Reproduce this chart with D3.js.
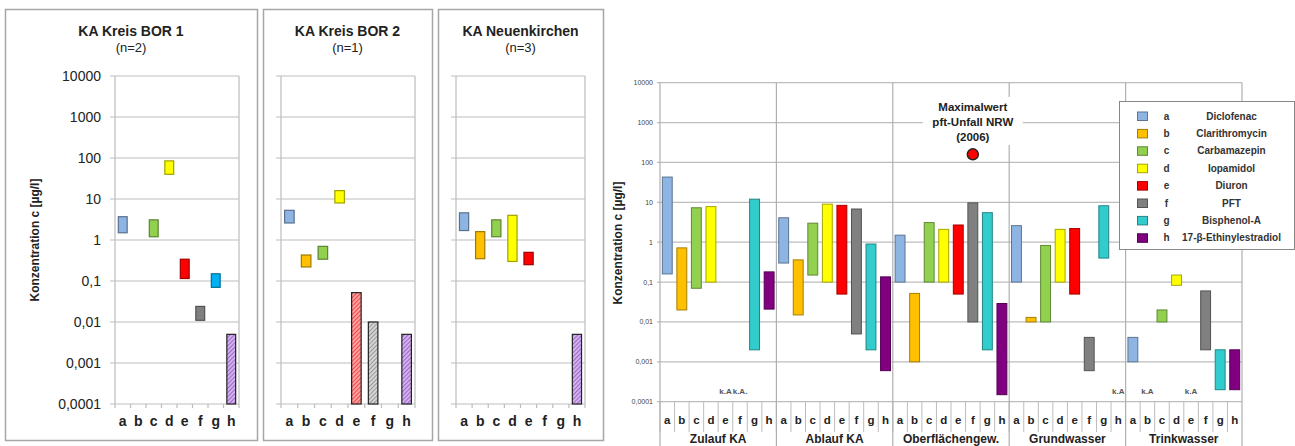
<!DOCTYPE html>
<html>
<head>
<meta charset="utf-8">
<script src="https://cdn.jsdelivr.net/npm/d3@7"></script>
<style>
  body { margin: 0; background: #fff; }
  svg  { display: block; font-family: "Liberation Sans", Arial, sans-serif; }
</style>
</head>
<body>
<svg id="chart" width="1295" height="446"></svg>
<script>
const letters    = ['a', 'b', 'c', 'd', 'e', 'f', 'g', 'h'];
const substances = ['Diclofenac', 'Clarithromycin', 'Carbamazepin', 'Iopamidol',
                    'Diuron', 'PFT', 'Bisphenol-A', '17-β-Ethinylestradiol'];
const colors      = ['#8db4e2', '#ffc000', '#92d050', '#ffff00', '#ff0000', '#808080', '#33cccc', '#800080'];
const smallColors = ['#8db4e2', '#ffc000', '#92d050', '#ffff00', '#ff0000', '#808080', '#00b0f0', '#800080'];
const yTicks      = [10000, 1000, 100, 10, 1, 0.1, 0.01, 0.001, 0.0001];
const yTickLabels = ['10000', '1000', '100', '10', '1', '0,1', '0,01', '0,001', '0,0001'];

// small panels: [min, max] per substance a..h, null = nothing drawn
const bor1  = [[1.5, 3.7], null, [1.2, 3.1], [40, 85], [0.115, 0.34], [0.011, 0.024], [0.07, 0.15], [0.0001, 0.005]];
const bor1Hatch  = [0, 0, 0, 0, 0, 0, 0, 1];
const bor2  = [[2.6, 5.3], [0.22, 0.43], [0.34, 0.7], [8, 16], [0.0001, 0.052], [0.0001, 0.01], null, [0.0001, 0.005]];
const bor2Hatch  = [0, 0, 0, 0, 1, 1, 0, 1];
const neuen = [[1.7, 4.6], [0.35, 1.6], [1.2, 3.1], [0.3, 4.0], [0.25, 0.5], null, null, [0.0001, 0.005]];
const neuenHatch = [0, 0, 0, 0, 0, 0, 0, 1];

// big chart
const groups = ['Zulauf KA', 'Ablauf KA', 'Oberflächengew.', 'Grundwasser', 'Trinkwasser'];
const zulauf = [[0.16, 43], [0.02, 0.72], [0.07, 7.3], [0.1, 7.8], null, null, [0.002, 12], [0.021, 0.18]];
const ablauf = [[0.3, 4.1], [0.015, 0.36], [0.15, 3.0], [0.1, 9.0], [0.05, 8.4], [0.005, 6.8], [0.002, 0.9], [0.0006, 0.135]];
const oberfl = [[0.1, 1.5], [0.001, 0.052], [0.1, 3.1], [0.1, 2.1], [0.05, 2.7], [0.01, 9.7], [0.002, 5.5], [0.00015, 0.029]];
const grundw = [[0.1, 2.6], [0.01, 0.013], [0.01, 0.83], [0.1, 2.1], [0.05, 2.2], [0.0006, 0.0041], [0.4, 8.2], null];
const trinkw = [[0.001, 0.0041], null, [0.01, 0.02], [0.083, 0.15], null, [0.002, 0.06], [0.0002, 0.002], [0.0002, 0.002]];
const kaLabels = [['Zulauf KA', 'e', 'k.A'], ['Zulauf KA', 'f', 'k.A.'], ['Grundwasser', 'h', 'k.A'],
                  ['Trinkwasser', 'b', 'k.A'], ['Trinkwasser', 'e', 'k.A']];
const maxPoint = { group: 'Oberflächengew.', letter: 'f', value: 160,
                   text: ['Maximalwert', 'pft-Unfall NRW', '(2006)'] };

const svg  = d3.select('#chart');
const GRID = '#bdbdbd';

// hatch patterns for the small panels
const hatch = {
  e: ['#ff9f9f', '#e01010'],
  f: ['#d4d4d4', '#707070'],
  h: ['#d2b0f0', '#7a3aa8'],
};
const defs = svg.append('defs');
Object.entries(hatch).forEach(([k, [bg, fg]]) => {
  const p = defs.append('pattern')
    .attr('id', 'hatch-' + k)
    .attr('patternUnits', 'userSpaceOnUse')
    .attr('width', 3).attr('height', 3)
    .attr('patternTransform', 'rotate(45)');
  p.append('rect').attr('width', 3).attr('height', 3).attr('fill', bg);
  p.append('line').attr('x1', 0).attr('y1', 0).attr('x2', 0).attr('y2', 3)
    .attr('stroke', fg).attr('stroke-width', 1.2);
});

function smallPanel(cfg) {
  const g = svg.append('g');
  g.append('rect')
    .attr('x', cfg.box[0] + 0.5).attr('y', 9.5)
    .attr('width', cfg.box[1] - cfg.box[0]).attr('height', 431)
    .attr('fill', 'none').attr('stroke', '#a6a6a6').attr('stroke-width', 1.5);

  const cx = (cfg.box[0] + cfg.box[1]) / 2;
  g.append('text').attr('x', cx).attr('y', 36)
    .attr('text-anchor', 'middle').attr('font-size', 14).attr('font-weight', 'bold')
    .attr('fill', '#222').text(cfg.title);
  g.append('text').attr('x', cx).attr('y', 52)
    .attr('text-anchor', 'middle').attr('font-size', 13)
    .attr('fill', '#222').text(cfg.n);

  const y = d3.scaleLog().domain([0.0001, 10000]).range([404, 76]);
  const x = d3.scaleBand().domain(letters).range([cfg.left, cfg.right]);

  g.selectAll('line.grid').data(yTicks).join('line')
    .attr('x1', cfg.left - 5).attr('x2', cfg.right)
    .attr('y1', d => y(d)).attr('y2', d => y(d))
    .attr('stroke', GRID).attr('stroke-width', 1.2);
  g.append('line').attr('x1', cfg.left).attr('x2', cfg.left).attr('y1', 76).attr('y2', 404)
    .attr('stroke', GRID).attr('stroke-width', 1.2);
  g.append('line').attr('x1', cfg.right).attr('x2', cfg.right).attr('y1', 76).attr('y2', 404)
    .attr('stroke', GRID).attr('stroke-width', 1.2);
  g.selectAll('line.tick').data(letters.concat(['end'])).join('line')
    .attr('x1', (d, i) => cfg.left + i * x.step()).attr('x2', (d, i) => cfg.left + i * x.step())
    .attr('y1', 404).attr('y2', 408)
    .attr('stroke', GRID).attr('stroke-width', 1.2);

  if (cfg.ticks) {
    g.selectAll('text.yt').data(yTicks).join('text')
      .attr('x', cfg.left - 14).attr('y', d => y(d) + 5)
      .attr('text-anchor', 'end').attr('font-size', 14).attr('fill', '#222')
      .text((d, i) => yTickLabels[i]);
    g.append('text')
      .attr('transform', `translate(${cfg.box[0] + 34},240) rotate(-90)`)
      .attr('text-anchor', 'middle').attr('font-size', 12).attr('font-weight', 'bold')
      .attr('fill', '#222').text('Konzentration c [µg/l]');
  }

  const bw = x.bandwidth() * 0.57;
  const rows = cfg.data.map((v, i) => ({ v, i })).filter(d => d.v);
  g.selectAll('rect.bar').data(rows).join('rect')
    .attr('x', d => x(letters[d.i]) + (x.bandwidth() - bw) / 2)
    .attr('y', d => y(d.v[1]))
    .attr('width', bw)
    .attr('height', d => y(d.v[0]) - y(d.v[1]))
    .attr('fill', d => cfg.hatch[d.i] ? `url(#hatch-${letters[d.i]})` : smallColors[d.i])
    .attr('stroke', d => cfg.hatch[d.i] ? '#222' : d3.color(smallColors[d.i]).darker(1.3))
    .attr('stroke-width', 1.2);

  g.selectAll('text.cat').data(letters).join('text')
    .attr('x', d => x(d) + x.bandwidth() / 2).attr('y', 426)
    .attr('text-anchor', 'middle').attr('font-size', 14).attr('font-weight', 'bold')
    .attr('fill', '#222').text(d => d);
}

smallPanel({ box: [5, 257], left: 115, right: 239, title: 'KA Kreis BOR 1', n: '(n=2)',
             data: bor1, hatch: bor1Hatch, ticks: true });
smallPanel({ box: [263, 432], left: 281, right: 415, title: 'KA Kreis BOR 2', n: '(n=1)',
             data: bor2, hatch: bor2Hatch, ticks: false });
smallPanel({ box: [438, 603], left: 456, right: 585, title: 'KA Neuenkirchen', n: '(n=3)',
             data: neuen, hatch: neuenHatch, ticks: false });

// ---- big chart ----
function bigChart() {
  const L = 660, R = 1242, T = 82.7, B = 401.7;
  const g = svg.append('g');
  const keys = [];
  groups.forEach(gr => letters.forEach(l => keys.push(gr + '|' + l)));
  const x = d3.scaleBand().domain(keys).range([L, R]);
  const gx = d3.scaleBand().domain(groups).range([L, R]);
  const y = d3.scaleLog().domain([0.0001, 10000]).range([B, T]);

  g.selectAll('line.grid').data(yTicks).join('line')
    .attr('x1', L - 3).attr('x2', R)
    .attr('y1', d => y(d)).attr('y2', d => y(d))
    .attr('stroke', GRID).attr('stroke-width', 1.3);

  g.selectAll('line.cat').data(keys).join('line')
    .attr('x1', d => x(d)).attr('x2', d => x(d))
    .attr('y1', B).attr('y2', 432)
    .attr('stroke', GRID).attr('stroke-width', 1);

  g.selectAll('line.sep').data(groups.concat(['end'])).join('line')
    .attr('x1', (d, i) => L + i * gx.step()).attr('x2', (d, i) => L + i * gx.step())
    .attr('y1', T).attr('y2', 446)
    .attr('stroke', '#b0b0b0').attr('stroke-width', 1.2);

  g.selectAll('text.yt').data(yTicks).join('text')
    .attr('x', L - 7).attr('y', d => y(d) + 2.5)
    .attr('text-anchor', 'end').attr('font-size', 7).attr('fill', '#444')
    .text((d, i) => yTickLabels[i]);
  g.append('text')
    .attr('transform', `translate(622,243) rotate(-90)`)
    .attr('text-anchor', 'middle').attr('font-size', 12).attr('font-weight', 'bold')
    .attr('fill', '#222').text('Konzentration c [µg/l]');

  // annotation of the PFT maximum, with a white backing over the grid
  const mk = maxPoint.group + '|' + maxPoint.letter;
  const mx = x(mk) + x.bandwidth() / 2;
  g.append('rect').attr('x', mx - 50).attr('y', 97).attr('width', 100).attr('height', 48)
    .attr('fill', '#fff');
  g.selectAll('text.ann').data(maxPoint.text).join('text')
    .attr('x', mx).attr('y', (d, i) => 111 + i * 15)
    .attr('text-anchor', 'middle').attr('font-size', 11.5).attr('font-weight', 'bold')
    .attr('fill', '#222').text(d => d);

  const series = [zulauf, ablauf, oberfl, grundw, trinkw];
  const rows = [];
  series.forEach((s, gi) => s.forEach((v, i) => { if (v) rows.push({ key: groups[gi] + '|' + letters[i], i, v }); }));
  const bw = x.bandwidth() * 0.68;
  g.selectAll('rect.bar').data(rows).join('rect')
    .attr('x', d => x(d.key) + (x.bandwidth() - bw) / 2)
    .attr('y', d => y(d.v[1]))
    .attr('width', bw)
    .attr('height', d => Math.max(2, y(d.v[0]) - y(d.v[1])))
    .attr('fill', d => colors[d.i])
    .attr('stroke', d => d3.color(colors[d.i]).darker(1.2))
    .attr('stroke-width', 1);

  g.append('circle').attr('cx', mx).attr('cy', y(maxPoint.value)).attr('r', 5.5)
    .attr('fill', '#ff0000').attr('stroke', '#222').attr('stroke-width', 1.5);

  g.selectAll('text.ka').data(kaLabels).join('text')
    .attr('x', d => x(d[0] + '|' + d[1]) + x.bandwidth() / 2).attr('y', 394)
    .attr('text-anchor', 'middle').attr('font-size', 8).attr('font-weight', 'bold')
    .attr('fill', '#555').text(d => d[2]);

  g.selectAll('text.cat').data(keys).join('text')
    .attr('x', d => x(d) + x.bandwidth() / 2).attr('y', 424)
    .attr('text-anchor', 'middle').attr('font-size', 11.5).attr('font-weight', 'bold')
    .attr('fill', '#222').text(d => d.split('|')[1]);

  g.selectAll('text.grp').data(groups).join('text')
    .attr('x', d => gx(d) + gx.bandwidth() / 2).attr('y', 442.5)
    .attr('text-anchor', 'middle').attr('font-size', 12).attr('font-weight', 'bold')
    .attr('fill', '#222').text(d => d);

  // legend
  const lg = g.append('g').attr('transform', 'translate(1119.5,101.5)');
  lg.append('rect').attr('width', 175).attr('height', 148)
    .attr('fill', '#fff').attr('stroke', '#888').attr('stroke-width', 1);
  const row = lg.selectAll('g.row').data(letters).join('g')
    .attr('transform', (d, i) => `translate(0,${14.5 + i * 17.4})`);
  row.append('rect').attr('x', 18).attr('y', -4).attr('width', 10).attr('height', 8.5)
    .attr('fill', (d, i) => colors[i]).attr('stroke', (d, i) => d3.color(colors[i]).darker(1.2));
  row.append('text').attr('x', 47).attr('y', 3.5).attr('text-anchor', 'middle')
    .attr('font-size', 10).attr('font-weight', 'bold').attr('fill', '#333').text(d => d);
  row.append('text').attr('x', 112).attr('y', 3.5).attr('text-anchor', 'middle')
    .attr('font-size', 10).attr('font-weight', 'bold').attr('fill', '#333')
    .text((d, i) => substances[i]);
}

bigChart();
</script>
</body>
</html>
